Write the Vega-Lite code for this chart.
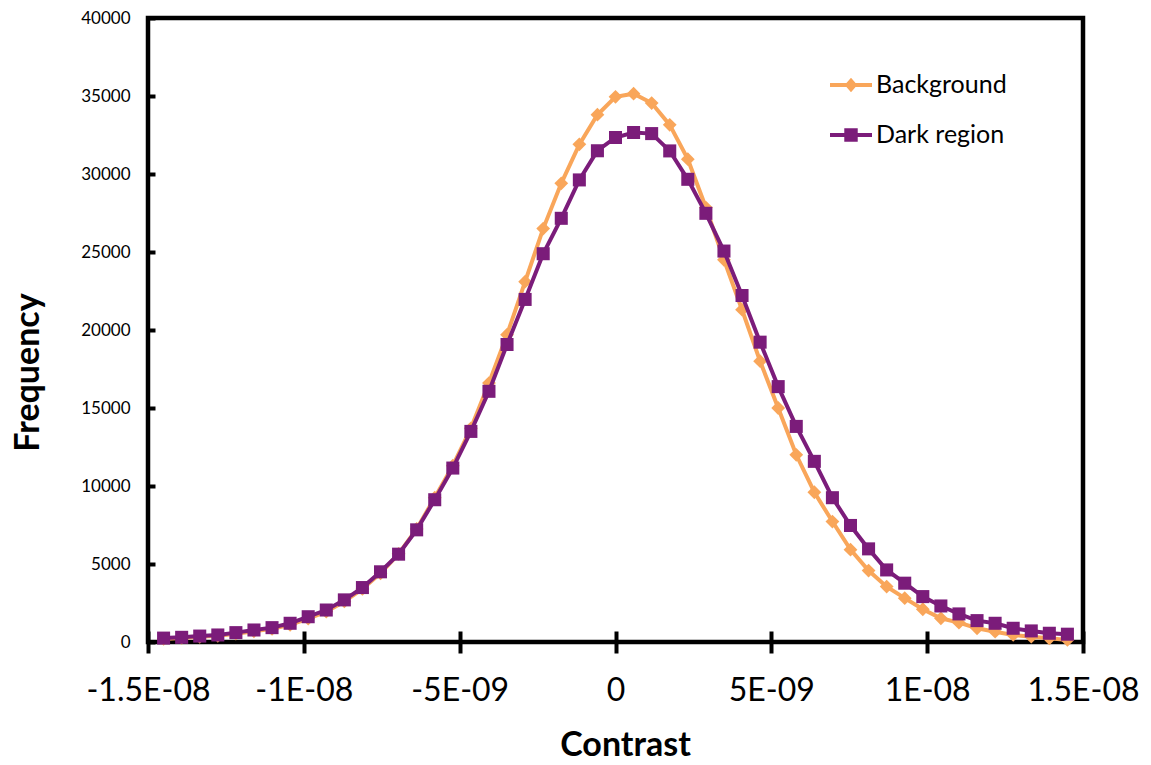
{
  "$schema": "https://vega.github.io/schema/vega-lite/v6.json",
  "width": 935,
  "height": 624,
  "autosize": {"type": "none"},
  "padding": {"left": 148, "top": 18, "right": 68, "bottom": 123},
  "background": "white",
  "config": {"view": {"stroke": "black", "strokeWidth": 4.5}, "font": "Lato"},
  "data": {"values": [
    {"series": "Background", "contrast": -1.45e-8, "frequency": 200},
    {"series": "Background", "contrast": -1.392e-8, "frequency": 260},
    {"series": "Background", "contrast": -1.334e-8, "frequency": 330},
    {"series": "Background", "contrast": -1.276e-8, "frequency": 400},
    {"series": "Background", "contrast": -1.218e-8, "frequency": 530},
    {"series": "Background", "contrast": -1.16e-8, "frequency": 690},
    {"series": "Background", "contrast": -1.102e-8, "frequency": 850},
    {"series": "Background", "contrast": -1.044e-8, "frequency": 1100},
    {"series": "Background", "contrast": -9.86e-9, "frequency": 1500},
    {"series": "Background", "contrast": -9.28e-9, "frequency": 1950},
    {"series": "Background", "contrast": -8.7e-9, "frequency": 2600},
    {"series": "Background", "contrast": -8.12e-9, "frequency": 3400},
    {"series": "Background", "contrast": -7.54e-9, "frequency": 4400},
    {"series": "Background", "contrast": -6.96e-9, "frequency": 5650},
    {"series": "Background", "contrast": -6.38e-9, "frequency": 7250},
    {"series": "Background", "contrast": -5.8e-9, "frequency": 9250},
    {"series": "Background", "contrast": -5.22e-9, "frequency": 11300},
    {"series": "Background", "contrast": -4.64e-9, "frequency": 13700},
    {"series": "Background", "contrast": -4.06e-9, "frequency": 16600},
    {"series": "Background", "contrast": -3.48e-9, "frequency": 19700},
    {"series": "Background", "contrast": -2.9e-9, "frequency": 23100},
    {"series": "Background", "contrast": -2.32e-9, "frequency": 26500},
    {"series": "Background", "contrast": -1.74e-9, "frequency": 29400},
    {"series": "Background", "contrast": -1.16e-9, "frequency": 31900},
    {"series": "Background", "contrast": -5.8e-10, "frequency": 33800},
    {"series": "Background", "contrast": 0, "frequency": 34950},
    {"series": "Background", "contrast": 5.8e-10, "frequency": 35150},
    {"series": "Background", "contrast": 1.16e-9, "frequency": 34550},
    {"series": "Background", "contrast": 1.74e-9, "frequency": 33150},
    {"series": "Background", "contrast": 2.32e-9, "frequency": 30950},
    {"series": "Background", "contrast": 2.9e-9, "frequency": 27850},
    {"series": "Background", "contrast": 3.48e-9, "frequency": 24500},
    {"series": "Background", "contrast": 4.06e-9, "frequency": 21300},
    {"series": "Background", "contrast": 4.64e-9, "frequency": 18000},
    {"series": "Background", "contrast": 5.22e-9, "frequency": 15000},
    {"series": "Background", "contrast": 5.8e-9, "frequency": 12000},
    {"series": "Background", "contrast": 6.38e-9, "frequency": 9600},
    {"series": "Background", "contrast": 6.96e-9, "frequency": 7720},
    {"series": "Background", "contrast": 7.54e-9, "frequency": 5920},
    {"series": "Background", "contrast": 8.12e-9, "frequency": 4580},
    {"series": "Background", "contrast": 8.7e-9, "frequency": 3550},
    {"series": "Background", "contrast": 9.28e-9, "frequency": 2810},
    {"series": "Background", "contrast": 9.86e-9, "frequency": 2100},
    {"series": "Background", "contrast": 1.044e-8, "frequency": 1520},
    {"series": "Background", "contrast": 1.102e-8, "frequency": 1240},
    {"series": "Background", "contrast": 1.16e-8, "frequency": 880},
    {"series": "Background", "contrast": 1.218e-8, "frequency": 660},
    {"series": "Background", "contrast": 1.276e-8, "frequency": 450},
    {"series": "Background", "contrast": 1.334e-8, "frequency": 340},
    {"series": "Background", "contrast": 1.392e-8, "frequency": 240},
    {"series": "Background", "contrast": 1.45e-8, "frequency": 130},
    {"series": "Dark region", "contrast": -1.45e-8, "frequency": 250},
    {"series": "Dark region", "contrast": -1.392e-8, "frequency": 300},
    {"series": "Dark region", "contrast": -1.334e-8, "frequency": 380},
    {"series": "Dark region", "contrast": -1.276e-8, "frequency": 450},
    {"series": "Dark region", "contrast": -1.218e-8, "frequency": 600},
    {"series": "Dark region", "contrast": -1.16e-8, "frequency": 770},
    {"series": "Dark region", "contrast": -1.102e-8, "frequency": 920},
    {"series": "Dark region", "contrast": -1.044e-8, "frequency": 1200},
    {"series": "Dark region", "contrast": -9.86e-9, "frequency": 1620},
    {"series": "Dark region", "contrast": -9.28e-9, "frequency": 2050},
    {"series": "Dark region", "contrast": -8.7e-9, "frequency": 2700},
    {"series": "Dark region", "contrast": -8.12e-9, "frequency": 3490},
    {"series": "Dark region", "contrast": -7.54e-9, "frequency": 4500},
    {"series": "Dark region", "contrast": -6.96e-9, "frequency": 5630},
    {"series": "Dark region", "contrast": -6.38e-9, "frequency": 7190},
    {"series": "Dark region", "contrast": -5.8e-9, "frequency": 9120},
    {"series": "Dark region", "contrast": -5.22e-9, "frequency": 11150},
    {"series": "Dark region", "contrast": -4.64e-9, "frequency": 13500},
    {"series": "Dark region", "contrast": -4.06e-9, "frequency": 16070},
    {"series": "Dark region", "contrast": -3.48e-9, "frequency": 19070},
    {"series": "Dark region", "contrast": -2.9e-9, "frequency": 21960},
    {"series": "Dark region", "contrast": -2.32e-9, "frequency": 24890},
    {"series": "Dark region", "contrast": -1.74e-9, "frequency": 27160},
    {"series": "Dark region", "contrast": -1.16e-9, "frequency": 29620},
    {"series": "Dark region", "contrast": -5.8e-10, "frequency": 31490},
    {"series": "Dark region", "contrast": 0, "frequency": 32340},
    {"series": "Dark region", "contrast": 5.8e-10, "frequency": 32660},
    {"series": "Dark region", "contrast": 1.16e-9, "frequency": 32590},
    {"series": "Dark region", "contrast": 1.74e-9, "frequency": 31480},
    {"series": "Dark region", "contrast": 2.32e-9, "frequency": 29660},
    {"series": "Dark region", "contrast": 2.9e-9, "frequency": 27480},
    {"series": "Dark region", "contrast": 3.48e-9, "frequency": 25060},
    {"series": "Dark region", "contrast": 4.06e-9, "frequency": 22210},
    {"series": "Dark region", "contrast": 4.64e-9, "frequency": 19220},
    {"series": "Dark region", "contrast": 5.22e-9, "frequency": 16370},
    {"series": "Dark region", "contrast": 5.8e-9, "frequency": 13820},
    {"series": "Dark region", "contrast": 6.38e-9, "frequency": 11580},
    {"series": "Dark region", "contrast": 6.96e-9, "frequency": 9250},
    {"series": "Dark region", "contrast": 7.54e-9, "frequency": 7470},
    {"series": "Dark region", "contrast": 8.12e-9, "frequency": 5970},
    {"series": "Dark region", "contrast": 8.7e-9, "frequency": 4620},
    {"series": "Dark region", "contrast": 9.28e-9, "frequency": 3770},
    {"series": "Dark region", "contrast": 9.86e-9, "frequency": 2910},
    {"series": "Dark region", "contrast": 1.044e-8, "frequency": 2310},
    {"series": "Dark region", "contrast": 1.102e-8, "frequency": 1800},
    {"series": "Dark region", "contrast": 1.16e-8, "frequency": 1370},
    {"series": "Dark region", "contrast": 1.218e-8, "frequency": 1200},
    {"series": "Dark region", "contrast": 1.276e-8, "frequency": 880},
    {"series": "Dark region", "contrast": 1.334e-8, "frequency": 710},
    {"series": "Dark region", "contrast": 1.392e-8, "frequency": 560},
    {"series": "Dark region", "contrast": 1.45e-8, "frequency": 500}
  ]},
  "encoding": {
    "x": {
      "field": "contrast", "type": "quantitative",
      "scale": {"domain": [-1.5e-8, 1.5e-8], "nice": false, "zero": false},
      "axis": {
        "title": "Contrast",
        "values": [-1.5e-8, -1e-8, -5e-9, 0, 5e-9, 1e-8, 1.5e-8],
        "labelExpr": "datum.value == 0 ? '0' : replace(toString(datum.value), 'e-', 'E-0')",
        "domain": false, "grid": false,
        "offset": -11, "tickSize": 22, "tickWidth": 4, "tickColor": "black",
        "labelFont": "Lato", "labelFontSize": 32, "labelColor": "black",
        "labelBaseline": "middle", "labelPadding": 37,
        "labelFlush": false, "labelOverlap": false, "labelBound": false,
        "titleFont": "Lato", "titleFontSize": 34, "titleFontWeight": "bold", "titleColor": "black",
        "titleX": 477, "titleY": 114, "titleBaseline": "middle", "titleAlign": "center"
      }
    },
    "y": {
      "field": "frequency", "type": "quantitative",
      "scale": {"domain": [0, 40000], "nice": false},
      "axis": {
        "title": "Frequency",
        "values": [0, 5000, 10000, 15000, 20000, 25000, 30000, 35000, 40000],
        "format": "d",
        "domain": false, "grid": false,
        "offset": -7, "tickSize": 7, "tickWidth": 4, "tickColor": "black",
        "labelFont": "Lato", "labelFontSize": 17, "labelColor": "black",
        "labelBaseline": "middle", "labelPadding": 18,
        "labelFlush": false, "labelOverlap": false, "labelBound": false,
        "titleFont": "Lato", "titleFontSize": 34, "titleFontWeight": "bold", "titleColor": "black",
        "titleX": -127, "titleY": 354, "titleBaseline": "middle", "titleAlign": "center", "titleAngle": -90
      }
    }
  },
  "layer": [
    {
      "transform": [{"filter": "datum.series == 'Background'"}],
      "mark": {"type": "line", "strokeWidth": 4, "color": "#F9A65A"}
    },
    {
      "transform": [{"filter": "datum.series == 'Background'"}],
      "mark": {"type": "point", "shape": "diamond", "filled": true, "opacity": 1, "size": 190, "strokeWidth": 0},
      "encoding": {
        "color": {
          "field": "series", "type": "nominal",
          "scale": {"domain": ["Background"], "range": ["#F9A65A"]},
          "legend": {
            "orient": "none", "legendX": 682, "legendY": 46,
            "title": null, "padding": 0,
            "symbolType": "M-1,-0.09L1,-0.09L1,0.09L-1,0.09Z M0,-0.34L0.3,0L0,0.34L-0.3,0Z",
            "symbolSize": 1764, "symbolStrokeWidth": 0, "symbolOpacity": 1,
            "labelFont": "Lato", "labelFontSize": 25, "labelColor": "black",
            "labelOffset": 4
          }
        }
      }
    },
    {
      "transform": [{"filter": "datum.series == 'Dark region'"}],
      "mark": {"type": "line", "strokeWidth": 4, "color": "#7B1C7A"}
    },
    {
      "transform": [{"filter": "datum.series == 'Dark region'"}],
      "mark": {"type": "point", "shape": "square", "filled": true, "opacity": 1, "size": 170, "strokeWidth": 0},
      "encoding": {
        "color": {
          "field": "series", "type": "nominal",
          "scale": {"domain": ["Dark region"], "range": ["#7B1C7A"]},
          "legend": {
            "orient": "none", "legendX": 682, "legendY": 96,
            "title": null, "padding": 0,
            "symbolType": "M-1,-0.09L1,-0.09L1,0.09L-1,0.09Z M-0.32,-0.32L0.32,-0.32L0.32,0.32L-0.32,0.32Z",
            "symbolSize": 1764, "symbolStrokeWidth": 0, "symbolOpacity": 1,
            "labelFont": "Lato", "labelFontSize": 25, "labelColor": "black",
            "labelOffset": 4
          }
        }
      }
    }
  ],
  "resolve": {"scale": {"color": "independent"}, "legend": {"color": "independent"}}
}
